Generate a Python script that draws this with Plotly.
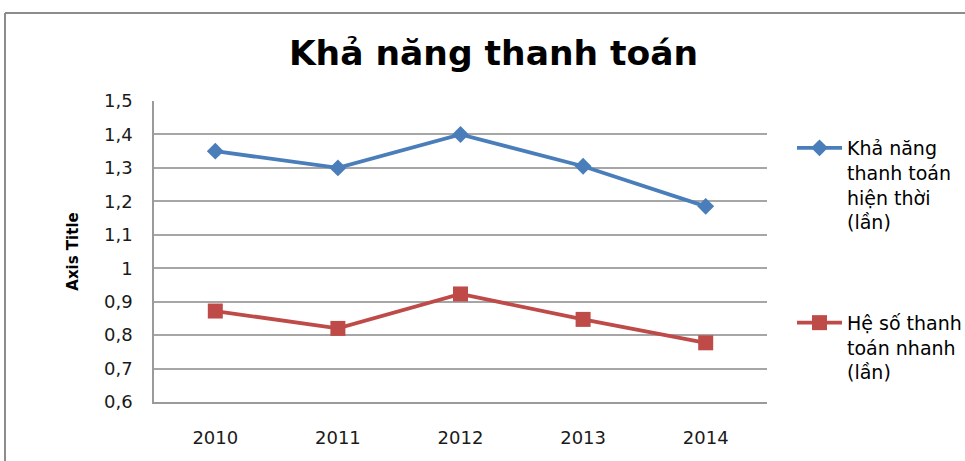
import plotly.graph_objects as go

years = ["2010", "2011", "2012", "2013", "2014"]
current_ratio = [1.35, 1.30, 1.40, 1.305, 1.185]
quick_ratio = [0.872, 0.82, 0.923, 0.847, 0.777]
series_names = ["Khả năng<br>thanh toán<br>hiện thời<br>(lần)", "Hệ số thanh<br>toán nhanh<br>(lần)"]
y_ticks = [0.6, 0.7, 0.8, 0.9, 1.0, 1.1, 1.2, 1.3, 1.4, 1.5]
y_tick_text = ["0,6", "0,7", "0,8", "0,9", "1", "1,1", "1,2", "1,3", "1,4", "1,5"]

W, H = 965, 461
L, R, T, B = 154, 767, 101, 402
FONT = "DejaVu Sans, Verdana, sans-serif"

fig = go.Figure()
fig.add_trace(go.Scatter(
    x=years, y=current_ratio, name=series_names[0], mode="lines+markers",
    line=dict(color="#4A7EBB", width=3.8),
    marker=dict(symbol="diamond", size=13, color="#4A7EBB"),
    legendgroup="a",
))
fig.add_trace(go.Scatter(
    x=years, y=quick_ratio, name=series_names[1], mode="lines+markers",
    line=dict(color="#BE4B48", width=3.8),
    marker=dict(symbol="square", size=15, color="#BE4B48"),
    legendgroup="b",
))

def px_x(p):
    return (p - L) / (R - L)

def px_y(p):
    return (B - p) / (B - T)

fig.update_layout(
    width=W, height=H,
    margin=dict(l=L, r=W - R, t=T, b=H - B, autoexpand=False),
    paper_bgcolor="white", plot_bgcolor="white",
    font=dict(family=FONT, color="#000000"),
    title=dict(text="<b>Khả năng thanh toán</b>", x=493.5 / W, xanchor="center",
               y=1 - 53 / H, yanchor="middle",
               font=dict(size=34.5, family=FONT)),
    showlegend=True,
    legend=dict(xref="container", yref="container", x=792 / W, y=1 - 129 / H,
                xanchor="left", yanchor="top", maxheight=320,
                valign="top", tracegroupgap=73, itemwidth=45,
                font=dict(size=19, family=FONT),
                bgcolor="rgba(0,0,0,0)"),
    shapes=[
        dict(type="line", xref="paper", yref="paper",
             x0=px_x(5), x1=px_x(5), y0=px_y(470), y1=px_y(13),
             line=dict(color="#8C8C8C", width=2)),
        dict(type="line", xref="paper", yref="paper",
             x0=px_x(5), x1=px_x(975), y0=px_y(13), y1=px_y(13),
             line=dict(color="#8C8C8C", width=2)),
    ],
)
fig.update_xaxes(type="category", range=[-0.5, 4.5], showgrid=False,
                 showline=True, linecolor="#9A9A9A", linewidth=1.5,
                 ticks="", tickfont=dict(size=18, color="#1A1A1A"), ticklabelstandoff=19)
fig.update_yaxes(range=[0.6, 1.5], tickvals=y_ticks, ticktext=y_tick_text,
                 showgrid=True, gridcolor="#A6A6A6", gridwidth=1.5,
                 showline=True, linecolor="#9A9A9A", linewidth=1.5,
                 ticks="", tickfont=dict(size=18, color="#1A1A1A"), ticklabelstandoff=16,
                 title=dict(text="<b>Axis Title</b>", font=dict(size=15), standoff=22),
                 zeroline=False)

fig.write_html("out.html", config={"displayModeBar": False},
               post_script="document.body.style.margin='0';")
